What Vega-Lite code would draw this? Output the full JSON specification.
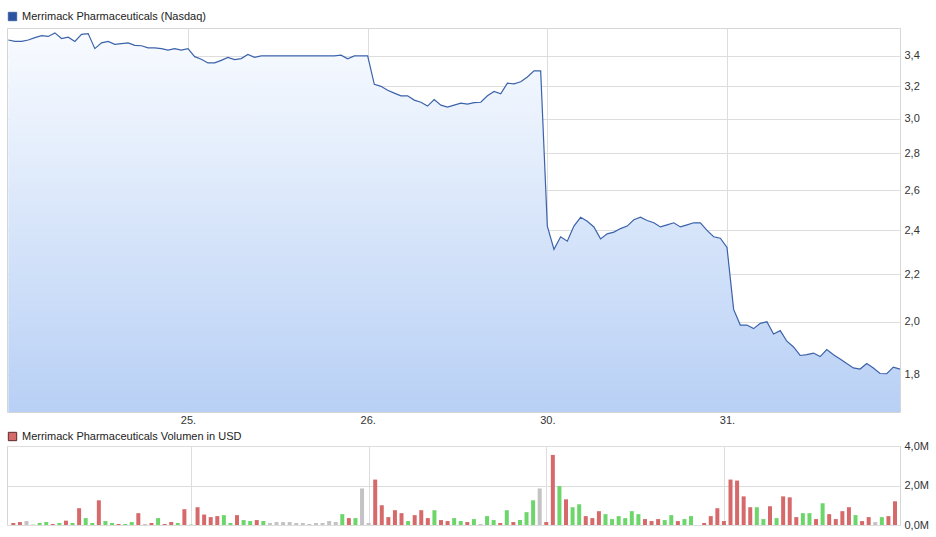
{
  "$schema": "https://vega.github.io/schema/vega-lite/v6.json",
  "description": "Merrimack Pharmaceuticals intraday price and volume",
  "background": "white",
  "padding": {"left": 5, "top": 10, "right": 0, "bottom": 0},
  "spacing": 4,
  "config": {
    "font": "Liberation Sans",
    "view": {"stroke": "#d6d6d6"},
    "axis": {
      "labelFont": "Liberation Sans",
      "labelFontSize": 11,
      "labelColor": "#333333",
      "gridColor": "#dddddd",
      "domain": false,
      "ticks": false,
      "title": null
    },
    "legend": {
      "labelFont": "Liberation Sans",
      "labelFontSize": 11,
      "labelColor": "#222222",
      "labelLimit": 0,
      "symbolType": "square",
      "symbolSize": 70,
      "title": null
    }
  },
  "resolve": {
    "scale": {"color": "independent", "fill": "independent", "stroke": "independent"},
    "legend": {"color": "independent", "fill": "independent", "stroke": "independent"}
  },
  "data": {
    "values": [
      {"i": 1, "price": 3.51, "vol": 0.10, "dir": "down"},
      {"i": 2, "price": 3.50, "vol": 0.15, "dir": "down"},
      {"i": 3, "price": 3.50, "vol": 0.20, "dir": "flat"},
      {"i": 4, "price": 3.51, "vol": 0.02, "dir": "up"},
      {"i": 5, "price": 3.527, "vol": 0.10, "dir": "up"},
      {"i": 6, "price": 3.54, "vol": 0.15, "dir": "up"},
      {"i": 7, "price": 3.535, "vol": 0.05, "dir": "down"},
      {"i": 8, "price": 3.56, "vol": 0.10, "dir": "up"},
      {"i": 9, "price": 3.52, "vol": 0.22, "dir": "down"},
      {"i": 10, "price": 3.53, "vol": 0.10, "dir": "up"},
      {"i": 11, "price": 3.50, "vol": 0.85, "dir": "down"},
      {"i": 12, "price": 3.55, "vol": 0.35, "dir": "up"},
      {"i": 13, "price": 3.555, "vol": 0.10, "dir": "up"},
      {"i": 14, "price": 3.45, "vol": 1.25, "dir": "down"},
      {"i": 15, "price": 3.49, "vol": 0.20, "dir": "up"},
      {"i": 16, "price": 3.50, "vol": 0.10, "dir": "up"},
      {"i": 17, "price": 3.48, "vol": 0.05, "dir": "down"},
      {"i": 18, "price": 3.485, "vol": 0.05, "dir": "up"},
      {"i": 19, "price": 3.49, "vol": 0.15, "dir": "up"},
      {"i": 20, "price": 3.473, "vol": 0.60, "dir": "down"},
      {"i": 21, "price": 3.47, "vol": 0.05, "dir": "flat"},
      {"i": 22, "price": 3.455, "vol": 0.10, "dir": "down"},
      {"i": 23, "price": 3.455, "vol": 0.35, "dir": "up"},
      {"i": 24, "price": 3.45, "vol": 0.05, "dir": "down"},
      {"i": 25, "price": 3.44, "vol": 0.15, "dir": "down"},
      {"i": 26, "price": 3.45, "vol": 0.10, "dir": "up"},
      {"i": 27, "price": 3.44, "vol": 0.80, "dir": "down"},
      {"i": 28, "price": 3.45, "vol": 0.02, "dir": "up"},
      {"i": 29, "price": 3.395, "vol": 0.90, "dir": "down"},
      {"i": 30, "price": 3.378, "vol": 0.53, "dir": "down"},
      {"i": 31, "price": 3.353, "vol": 0.40, "dir": "down"},
      {"i": 32, "price": 3.353, "vol": 0.45, "dir": "down"},
      {"i": 33, "price": 3.37, "vol": 0.50, "dir": "up"},
      {"i": 34, "price": 3.39, "vol": 0.10, "dir": "up"},
      {"i": 35, "price": 3.375, "vol": 0.50, "dir": "down"},
      {"i": 36, "price": 3.382, "vol": 0.25, "dir": "up"},
      {"i": 37, "price": 3.41, "vol": 0.20, "dir": "up"},
      {"i": 38, "price": 3.39, "vol": 0.25, "dir": "down"},
      {"i": 39, "price": 3.40, "vol": 0.20, "dir": "up"},
      {"i": 40, "price": 3.40, "vol": 0.10, "dir": "flat"},
      {"i": 41, "price": 3.40, "vol": 0.15, "dir": "flat"},
      {"i": 42, "price": 3.40, "vol": 0.15, "dir": "flat"},
      {"i": 43, "price": 3.40, "vol": 0.15, "dir": "flat"},
      {"i": 44, "price": 3.40, "vol": 0.10, "dir": "flat"},
      {"i": 45, "price": 3.40, "vol": 0.10, "dir": "flat"},
      {"i": 46, "price": 3.40, "vol": 0.05, "dir": "flat"},
      {"i": 47, "price": 3.40, "vol": 0.10, "dir": "flat"},
      {"i": 48, "price": 3.40, "vol": 0.10, "dir": "flat"},
      {"i": 49, "price": 3.40, "vol": 0.20, "dir": "flat"},
      {"i": 50, "price": 3.40, "vol": 0.15, "dir": "flat"},
      {"i": 51, "price": 3.405, "vol": 0.55, "dir": "up"},
      {"i": 52, "price": 3.38, "vol": 0.35, "dir": "down"},
      {"i": 53, "price": 3.40, "vol": 0.35, "dir": "up"},
      {"i": 54, "price": 3.40, "vol": 1.85, "dir": "flat"},
      {"i": 55, "price": 3.40, "vol": 0.10, "dir": "flat"},
      {"i": 56, "price": 3.213, "vol": 2.30, "dir": "down"},
      {"i": 57, "price": 3.20, "vol": 1.00, "dir": "down"},
      {"i": 58, "price": 3.175, "vol": 0.40, "dir": "down"},
      {"i": 59, "price": 3.157, "vol": 0.75, "dir": "down"},
      {"i": 60, "price": 3.14, "vol": 0.60, "dir": "down"},
      {"i": 61, "price": 3.14, "vol": 0.20, "dir": "up"},
      {"i": 62, "price": 3.113, "vol": 0.50, "dir": "down"},
      {"i": 63, "price": 3.10, "vol": 0.75, "dir": "down"},
      {"i": 64, "price": 3.076, "vol": 0.35, "dir": "down"},
      {"i": 65, "price": 3.117, "vol": 0.75, "dir": "up"},
      {"i": 66, "price": 3.082, "vol": 0.25, "dir": "down"},
      {"i": 67, "price": 3.07, "vol": 0.20, "dir": "down"},
      {"i": 68, "price": 3.082, "vol": 0.35, "dir": "up"},
      {"i": 69, "price": 3.094, "vol": 0.20, "dir": "up"},
      {"i": 70, "price": 3.088, "vol": 0.15, "dir": "down"},
      {"i": 71, "price": 3.097, "vol": 0.30, "dir": "up"},
      {"i": 72, "price": 3.10, "vol": 0.05, "dir": "flat"},
      {"i": 73, "price": 3.14, "vol": 0.45, "dir": "up"},
      {"i": 74, "price": 3.167, "vol": 0.25, "dir": "up"},
      {"i": 75, "price": 3.152, "vol": 0.10, "dir": "down"},
      {"i": 76, "price": 3.22, "vol": 0.75, "dir": "up"},
      {"i": 77, "price": 3.216, "vol": 0.15, "dir": "down"},
      {"i": 78, "price": 3.229, "vol": 0.25, "dir": "up"},
      {"i": 79, "price": 3.26, "vol": 0.65, "dir": "up"},
      {"i": 80, "price": 3.30, "vol": 1.25, "dir": "up"},
      {"i": 81, "price": 3.30, "vol": 1.85, "dir": "flat"},
      {"i": 82, "price": 2.421, "vol": 0.15, "dir": "down"},
      {"i": 83, "price": 2.311, "vol": 3.55, "dir": "down"},
      {"i": 84, "price": 2.37, "vol": 1.97, "dir": "up"},
      {"i": 85, "price": 2.349, "vol": 1.30, "dir": "down"},
      {"i": 86, "price": 2.421, "vol": 0.90, "dir": "up"},
      {"i": 87, "price": 2.464, "vol": 1.05, "dir": "up"},
      {"i": 88, "price": 2.444, "vol": 0.45, "dir": "down"},
      {"i": 89, "price": 2.417, "vol": 0.35, "dir": "down"},
      {"i": 90, "price": 2.36, "vol": 0.70, "dir": "down"},
      {"i": 91, "price": 2.384, "vol": 0.55, "dir": "up"},
      {"i": 92, "price": 2.392, "vol": 0.30, "dir": "up"},
      {"i": 93, "price": 2.409, "vol": 0.45, "dir": "up"},
      {"i": 94, "price": 2.421, "vol": 0.35, "dir": "up"},
      {"i": 95, "price": 2.452, "vol": 0.70, "dir": "up"},
      {"i": 96, "price": 2.464, "vol": 0.55, "dir": "up"},
      {"i": 97, "price": 2.448, "vol": 0.30, "dir": "down"},
      {"i": 98, "price": 2.437, "vol": 0.20, "dir": "down"},
      {"i": 99, "price": 2.417, "vol": 0.30, "dir": "down"},
      {"i": 100, "price": 2.427, "vol": 0.25, "dir": "up"},
      {"i": 101, "price": 2.437, "vol": 0.50, "dir": "up"},
      {"i": 102, "price": 2.417, "vol": 0.20, "dir": "down"},
      {"i": 103, "price": 2.427, "vol": 0.30, "dir": "up"},
      {"i": 104, "price": 2.437, "vol": 0.45, "dir": "up"},
      {"i": 105, "price": 2.437, "vol": 0, "dir": "flat"},
      {"i": 106, "price": 2.40, "vol": 0.10, "dir": "down"},
      {"i": 107, "price": 2.37, "vol": 0.45, "dir": "down"},
      {"i": 108, "price": 2.363, "vol": 0.85, "dir": "down"},
      {"i": 109, "price": 2.32, "vol": 0.20, "dir": "down"},
      {"i": 110, "price": 2.05, "vol": 2.30, "dir": "down"},
      {"i": 111, "price": 1.987, "vol": 2.25, "dir": "down"},
      {"i": 112, "price": 1.987, "vol": 1.45, "dir": "down"},
      {"i": 113, "price": 1.973, "vol": 0.90, "dir": "down"},
      {"i": 114, "price": 1.994, "vol": 0.90, "dir": "up"},
      {"i": 115, "price": 2.00, "vol": 0.30, "dir": "up"},
      {"i": 116, "price": 1.952, "vol": 0.95, "dir": "down"},
      {"i": 117, "price": 1.965, "vol": 0.35, "dir": "up"},
      {"i": 118, "price": 1.924, "vol": 1.45, "dir": "down"},
      {"i": 119, "price": 1.902, "vol": 1.40, "dir": "down"},
      {"i": 120, "price": 1.87, "vol": 0.40, "dir": "down"},
      {"i": 121, "price": 1.873, "vol": 0.60, "dir": "up"},
      {"i": 122, "price": 1.879, "vol": 0.60, "dir": "up"},
      {"i": 123, "price": 1.866, "vol": 0.30, "dir": "down"},
      {"i": 124, "price": 1.892, "vol": 1.10, "dir": "up"},
      {"i": 125, "price": 1.873, "vol": 0.55, "dir": "down"},
      {"i": 126, "price": 1.857, "vol": 0.30, "dir": "down"},
      {"i": 127, "price": 1.84, "vol": 0.70, "dir": "down"},
      {"i": 128, "price": 1.824, "vol": 0.90, "dir": "down"},
      {"i": 129, "price": 1.82, "vol": 0.50, "dir": "up"},
      {"i": 130, "price": 1.84, "vol": 0.20, "dir": "down"},
      {"i": 131, "price": 1.824, "vol": 0.40, "dir": "down"},
      {"i": 132, "price": 1.804, "vol": 0.15, "dir": "flat"},
      {"i": 133, "price": 1.803, "vol": 0.40, "dir": "up"},
      {"i": 134, "price": 1.827, "vol": 0.45, "dir": "down"},
      {"i": 135, "price": 1.82, "vol": 1.20, "dir": "down"}
    ]
  },
  "vconcat": [
    {
      "width": 893,
      "height": 384,
      "encoding": {
        "x": {
          "field": "i",
          "type": "quantitative",
          "scale": {"domain": [0.8, 135], "nice": false, "zero": false},
          "axis": {
            "values": [28, 55, 82, 109],
            "labelExpr": "datum.value == 28 ? '25.' : datum.value == 55 ? '26.' : datum.value == 82 ? '30.' : '31.'",
            "labelPadding": 2,
            "grid": true
          }
        },
        "y": {
          "field": "price",
          "type": "quantitative",
          "scale": {"type": "log", "domain": [1.6705, 3.595], "nice": false},
          "axis": {
            "orient": "right",
            "values": [1.8, 2.0, 2.2, 2.4, 2.6, 2.8, 3.0, 3.2, 3.4],
            "labelExpr": "replace(format(datum.value, '.1f'), '.', ',')",
            "labelPadding": 4,
            "grid": true
          }
        }
      },
      "layer": [
        {
          "mark": {
            "type": "area",
            "line": false,
            "color": {
              "gradient": "linear",
              "x1": 0, "y1": 0, "x2": 0, "y2": 1,
              "stops": [
                {"offset": 0, "color": "#f8fbff"},
                {"offset": 1, "color": "#b8d0f5"}
              ]
            }
          },
          "encoding": {"y2": {"datum": 1.6705}}
        },
        {
          "mark": {"type": "line", "strokeWidth": 1.2},
          "encoding": {
            "color": {
              "datum": "Merrimack Pharmaceuticals (Nasdaq)",
              "scale": {"range": ["#3b62aa"]},
              "legend": {
                "orient": "none",
                "legendX": 0,
                "legendY": -17,
                "encode": {
                  "symbols": {
                    "update": {
                      "fill": {"value": "#2d53a0"},
                      "stroke": {"value": "#1c2f5c"},
                      "strokeWidth": {"value": 1},
                      "opacity": {"value": 1}
                    }
                  }
                }
              }
            }
          }
        }
      ]
    },
    {
      "width": 893,
      "height": 79,
      "encoding": {
        "x": {
          "field": "i",
          "type": "quantitative",
          "scale": {"domain": [0.8, 135], "nice": false, "zero": false},
          "axis": {"values": [28, 55, 82, 109], "labels": false, "grid": true}
        },
        "y": {
          "field": "vol",
          "type": "quantitative",
          "scale": {"domain": [0, 4], "nice": false},
          "axis": {
            "orient": "right",
            "values": [0, 2, 4],
            "labelExpr": "replace(format(datum.value, '.1f'), '.', ',') + 'M'",
            "labelPadding": 4,
            "grid": true
          }
        }
      },
      "layer": [
        {
          "mark": {"type": "bar", "size": 4},
          "encoding": {
            "fill": {
              "field": "dir",
              "type": "nominal",
              "scale": {"domain": ["down", "up", "flat"], "range": ["#d66a6b", "#6dd66b", "#c3c3c3"]},
              "legend": null
            }
          }
        },
        {
          "mark": {"type": "tick", "opacity": 0, "thickness": 0},
          "encoding": {
            "x": {"datum": 1},
            "y": {"datum": 0},
            "color": {
              "datum": "Merrimack Pharmaceuticals Volumen in USD",
              "scale": {"range": ["#d66a6b"]},
              "legend": {
                "orient": "none",
                "legendX": 0,
                "legendY": -15,
                "encode": {
                  "symbols": {
                    "update": {
                      "fill": {"value": "#d66a6b"},
                      "stroke": {"value": "#5a2a2a"},
                      "strokeWidth": {"value": 1},
                      "opacity": {"value": 1}
                    }
                  }
                }
              }
            }
          }
        }
      ]
    }
  ]
}
